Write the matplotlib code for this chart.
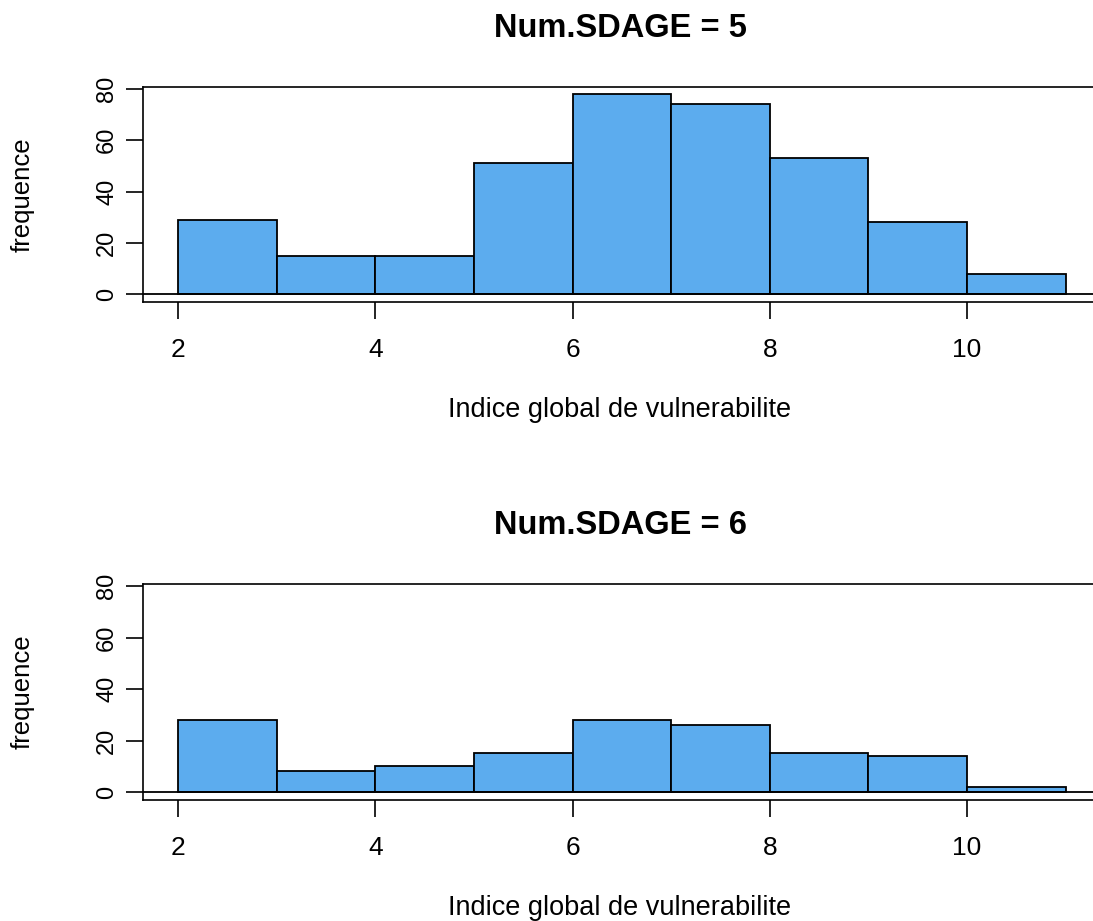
import matplotlib
matplotlib.use('Agg')
import matplotlib.pyplot as plt

# bornes des classes et frequences
bornes = [2, 3, 4, 5, 6, 7, 8, 9, 10, 11]
freq_sdage5 = [29, 15, 15, 51, 78, 74, 53, 28, 8]
freq_sdage6 = [28, 8, 10, 15, 28, 26, 15, 14, 2]
titres = ["Num.SDAGE = 5", "Num.SDAGE = 6"]
x_ticks = [2, 4, 6, 8, 10]
y_ticks = [0, 20, 40, 60, 80]

plt.rcParams['font.family'] = ['Liberation Sans', 'DejaVu Sans']

fig = plt.figure(figsize=(10.93, 9.21), dpi=100)
W, H = 1093, 921

# positions des cadres en pixels (gauche, haut, bas)
cadres = [(143, 87, 302), (143, 584, 800)]
droite = 1115

for (gauche, haut, bas), freq, titre in zip(cadres, [freq_sdage5, freq_sdage6], titres):
    ax = fig.add_axes([gauche / W, 1 - bas / H, (droite - gauche) / W, (bas - haut) / H])
    largeurs = [bornes[i + 1] - bornes[i] for i in range(len(freq))]
    ax.bar(bornes[:-1], freq, width=largeurs, align='edge',
           color='#5CACEE', edgecolor='black', linewidth=1.3)
    ax.axhline(0, color='black', linewidth=1.3)
    ax.set_xlim(1.645, 11.5)
    ax.set_ylim(-3.1, 80.8)
    ax.set_xticks(x_ticks)
    ax.set_yticks(y_ticks)
    ax.set_xticklabels([str(v) for v in x_ticks], fontsize=19)
    ax.set_yticklabels([str(v) for v in y_ticks], rotation=90, va='center', fontsize=17)
    ax.tick_params(axis='both', length=12, width=1.2, colors='black')
    ax.tick_params(axis='x', pad=14)
    ax.tick_params(axis='y', pad=6)
    for s in ax.spines.values():
        s.set_linewidth(1.2)
    ax.spines['right'].set_visible(False)
    centre = (620 - gauche) / (droite - gauche)
    ax.set_xlabel("Indice global de vulnerabilite", fontsize=19.5, labelpad=25)
    ax.xaxis.label.set_x(centre)
    ax.set_ylabel("frequence", fontsize=18.5, labelpad=44)
    ax.set_title(titre, fontsize=23.5, fontweight='bold', pad=36, x=centre)

plt.savefig('out.png', dpi=100)
